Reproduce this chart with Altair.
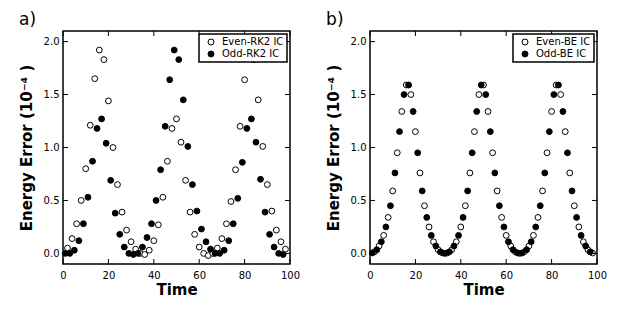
import altair as alt
import pandas as pd

# ---------------- data ----------------
even_t = list(range(2, 100, 2))
odd_t = list(range(1, 98, 2))

rk2_even = [0.05, 0.14, 0.28, 0.50, 0.80, 1.21, 1.65, 1.92, 1.83, 1.44,
            1.00, 0.65, 0.39, 0.22, 0.11, 0.04, 0.00, -0.01, 0.03, 0.12,
            0.27, 0.53, 0.87, 1.18, 1.27, 1.05, 0.69, 0.39, 0.18, 0.06,
            0.00, -0.02, 0.00, 0.05, 0.14, 0.28, 0.49, 0.79, 1.20, 1.64,
            1.92, 1.83, 1.45, 1.01, 0.65, 0.40, 0.22, 0.11, 0.04]
rk2_odd = [0.00, 0.00, 0.03, 0.12, 0.28, 0.53, 0.87, 1.18, 1.27, 1.04,
           0.69, 0.38, 0.18, 0.06, 0.00, -0.01, 0.00, 0.06, 0.15, 0.28,
           0.50, 0.79, 1.20, 1.64, 1.92, 1.83, 1.45, 1.01, 0.65, 0.40,
           0.23, 0.11, 0.04, 0.00, 0.00, 0.03, 0.12, 0.28, 0.52, 0.86,
           1.18, 1.27, 1.05, 0.70, 0.39, 0.18, 0.06, 0.00, -0.01]

be_even = [0.015, 0.07, 0.17, 0.34, 0.59, 0.95, 1.34, 1.59, 1.50, 1.15,
           0.76, 0.45, 0.25, 0.11, 0.035, 0.004, 0.004, 0.035, 0.11, 0.25,
           0.45, 0.76, 1.15, 1.50, 1.59, 1.34, 0.95, 0.59, 0.34, 0.17,
           0.07, 0.015, 0.0, 0.015, 0.07, 0.17, 0.34, 0.59, 0.95, 1.34,
           1.59, 1.50, 1.15, 0.76, 0.45, 0.25, 0.11, 0.035, 0.004]
be_odd = [0.004, 0.035, 0.11, 0.25, 0.45, 0.76, 1.15, 1.50, 1.59, 1.34,
          0.95, 0.59, 0.34, 0.17, 0.07, 0.015, 0.0, 0.015, 0.07, 0.17,
          0.34, 0.59, 0.95, 1.34, 1.59, 1.50, 1.15, 0.76, 0.45, 0.25,
          0.11, 0.035, 0.004, 0.004, 0.035, 0.11, 0.25, 0.45, 0.76, 1.15,
          1.50, 1.59, 1.34, 0.95, 0.59, 0.34, 0.17, 0.07, 0.015]

labels_a = ["Even-RK2 IC", "Odd-RK2 IC"]
labels_b = ["Even-BE IC", "Odd-BE IC"]

x_ticks = [0, 20, 40, 60, 80, 100]
y_ticks = [0.0, 0.5, 1.0, 1.5, 2.0]

W, H = 227, 233
TL = 5
FONT = "DejaVu Sans"

xscale = alt.Scale(domain=[0, 100], nice=False, zero=False)
yscale = alt.Scale(domain=[-0.1, 2.1], nice=False, zero=False)


def panel(title, even_vals, odd_vals, labels):
    df = pd.DataFrame({
        "t": even_t + odd_t,
        "e": even_vals + odd_vals,
        "s": [labels[0]] * len(even_t) + [labels[1]] * len(odd_t),
    })
    pts = alt.Chart(df).mark_circle(size=34, stroke="black", strokeWidth=1, opacity=1).encode(
        x=alt.X("t:Q", scale=xscale, title="Time",
                axis=alt.Axis(values=x_ticks, format="d", labelPadding=6, titlePadding=2)),
        y=alt.Y("e:Q", scale=yscale, title="Energy Error (10⁻⁴ )",
                axis=alt.Axis(values=y_ticks, format=".1f", labelPadding=4, titlePadding=9)),
        fill=alt.Fill("s:N", scale=alt.Scale(domain=labels, range=["white", "black"]),
                      legend=alt.Legend(orient="top-right", offset=3, title=None)),
        order=alt.Order("o:Q"),
    ).transform_calculate(o="datum.s == '%s' ? 0 : 1" % labels[0])

    xt = pd.DataFrame({"t": x_ticks})
    yt = pd.DataFrame({"e": y_ticks})
    bx = alt.X("t:Q", scale=xscale)
    by = alt.Y("e:Q", scale=yscale)
    bottom = alt.Chart(xt).mark_rule(color="black", strokeWidth=1).encode(
        x=bx, y=alt.value(H), y2=alt.value(H - TL))
    top = alt.Chart(xt).mark_rule(color="black", strokeWidth=1).encode(
        x=bx, y=alt.value(0), y2=alt.value(TL))
    left = alt.Chart(yt).mark_rule(color="black", strokeWidth=1).encode(
        y=by, x=alt.value(0), x2=alt.value(TL))
    right = alt.Chart(yt).mark_rule(color="black", strokeWidth=1).encode(
        y=by, x=alt.value(W - TL), x2=alt.value(W))

    return alt.layer(pts, bottom, top, left, right).properties(
        width=W, height=H,
        title=alt.TitleParams(text=title, anchor="start", frame="bounds", fontSize=17,
                              fontWeight="normal", font=FONT, color="black", offset=2),
    )


chart = alt.hconcat(
    panel("a)", rk2_even, rk2_odd, labels_a),
    panel("b)", be_even, be_odd, labels_b),
    spacing=24,
).resolve_scale(fill="independent").resolve_legend(fill="independent").properties(
    padding={"left": 10, "top": 1, "right": 5, "bottom": 5},
).configure_view(
    stroke="black", strokeWidth=1.5
).configure_axis(
    labelFont=FONT, labelFontSize=10, labelColor="black",
    titleFont=FONT, titleFontSize=15, titleFontWeight="bold", titleColor="black",
    ticks=False, domain=False, grid=False, labelFlush=False,
).configure_legend(
    fillColor="white", strokeColor="black", strokeWidth=1.5, padding=3,
    labelFont=FONT, labelFontSize=10, labelColor="black",
    symbolType="circle", symbolSize=36, symbolStrokeColor="black", symbolStrokeWidth=1,
    symbolOffset=4, rowPadding=2, labelOffset=6, cornerRadius=0,
)

chart.save("out.html", embed_options={"renderer": "svg", "actions": False})
